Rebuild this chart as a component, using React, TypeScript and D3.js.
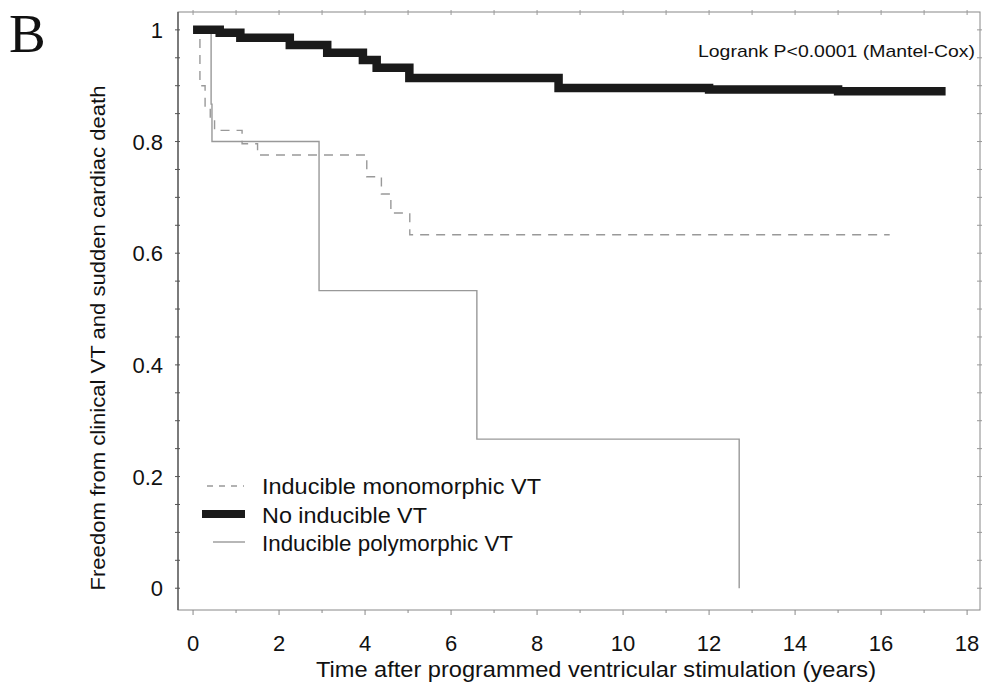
import React from "react";
import * as d3 from "d3";

const W = 993;
const H = 692;

// Kaplan-Meier step data: [time (years), survival]
const noInducibleT = [0, 0.62, 1.1, 2.25, 3.12, 3.95, 4.27, 5.03, 8.5, 12.0, 15.0, 17.5];
const noInducibleS = [1.0, 0.995, 0.986, 0.973, 0.959, 0.946, 0.932, 0.914, 0.896, 0.893, 0.89, 0.89];

const monoT = [0, 0.16, 0.28, 0.4, 0.5, 1.14, 1.5, 4.04, 4.38, 4.6, 5.04, 16.2];
const monoS = [1.0, 0.9, 0.862, 0.844, 0.82, 0.796, 0.776, 0.737, 0.706, 0.672, 0.633, 0.633];

const polyT = [0, 0.42, 0.44, 2.93, 6.6, 12.7, 12.7];
const polyS = [1.0, 0.867, 0.8, 0.533, 0.267, 0.267, 0.0];

const xTicks = [0, 2, 4, 6, 8, 10, 12, 14, 16, 18];
const yTicks = [0, 0.2, 0.4, 0.6, 0.8, 1];
const yTickLabels = ["0", "0.2", "0.4", "0.6", "0.8", "1"];

const legendLabels = ["Inducible monomorphic VT", "No inducible VT", "Inducible polymorphic VT"];

const frame = { left: 178, top: 12, right: 980, bottom: 610 };

const x = d3.scaleLinear().domain([-0.35, 18.3]).range([frame.left, frame.right]);
const y = d3.scaleLinear().domain([-0.039, 1.032]).range([frame.bottom, frame.top]);

const line = d3
  .line<[number, number]>()
  .x((d) => x(d[0]))
  .y((d) => y(d[1]))
  .curve(d3.curveStepAfter);

function pts(t: number[], s: number[]): [number, number][] {
  return t.map((v, i) => [v, s[i]] as [number, number]);
}

const FONT = "Liberation Sans, Arial, sans-serif";

export default function App() {
  const minorX = d3.range(0, 19, 1);
  const minorY = d3.range(0, 1.0001, 0.05);
  return (
    <svg width={W} height={H} style={{ position: "absolute", left: 0, top: 0, background: "#fff" }}>
      <rect x={0} y={0} width={W} height={H} fill="#fff" />
      {/* frame */}
      <rect
        x={frame.left}
        y={frame.top}
        width={frame.right - frame.left}
        height={frame.bottom - frame.top}
        fill="none"
        stroke="#888"
        strokeWidth={1}
      />
      <line x1={frame.left} x2={frame.left} y1={frame.top} y2={frame.bottom} stroke="#555" strokeWidth={1.3} />
      {/* y ticks */}
      {minorY.map((v, i) => (
        <line key={"ym" + i} x1={frame.left - 3} x2={frame.left + 2} y1={y(v)} y2={y(v)} stroke="#555" strokeWidth={1} />
      ))}
      {minorY.map((v, i) => (
        <line key={"yr" + i} x1={frame.right - 3} x2={frame.right + 2} y1={y(v)} y2={y(v)} stroke="#999" strokeWidth={1} />
      ))}
      {/* x ticks */}
      {minorX.map((t) => (
        <line
          key={"xm" + t}
          x1={x(t)}
          x2={x(t)}
          y1={frame.bottom}
          y2={frame.bottom + (t % 2 === 0 ? 5 : 3)}
          stroke="#888"
          strokeWidth={1}
        />
      ))}
      {minorX.map((t) => (
        <line key={"xt" + t} x1={x(t)} x2={x(t)} y1={frame.top - 2} y2={frame.top + 3} stroke="#999" strokeWidth={1} />
      ))}
      {/* y labels */}
      {yTicks.map((v, i) => (
        <text
          key={"yl" + i}
          x={163}
          y={y(v) + 8}
          textAnchor="end"
          fontFamily={FONT}
          fontSize={22}
          fill="#111"
        >
          {yTickLabels[i]}
        </text>
      ))}
      {/* x labels */}
      {xTicks.map((t) => (
        <text key={"xl" + t} x={x(t)} y={651} textAnchor="middle" fontFamily={FONT} fontSize={22} fill="#111">
          {t}
        </text>
      ))}
      {/* axis titles */}
      <text
        x={596}
        y={677}
        textAnchor="middle"
        fontFamily={FONT}
        fontSize={22}
        fill="#111"
        textLength={560}
        lengthAdjust="spacingAndGlyphs"
      >
        Time after programmed ventricular stimulation (years)
      </text>
      <text
        transform={`translate(105, 338) rotate(-90)`}
        textAnchor="middle"
        fontFamily={FONT}
        fontSize={21}
        fill="#111"
        textLength={505}
        lengthAdjust="spacingAndGlyphs"
      >
        Freedom from clinical VT and sudden cardiac death
      </text>
      {/* panel letter */}
      <text x={9} y={52} fontFamily="Liberation Serif, Times New Roman, serif" fontSize={55} fill="#111">
        B
      </text>
      {/* logrank */}
      <text
        x={698}
        y={57}
        fontFamily={FONT}
        fontSize={17}
        fill="#111"
        textLength={277}
        lengthAdjust="spacingAndGlyphs"
      >
        Logrank P&lt;0.0001 (Mantel-Cox)
      </text>
      {/* curves */}
      <path d={line(pts(polyT, polyS)) || ""} fill="none" stroke="#999" strokeWidth={1.4} />
      <path
        d={line(pts(monoT, monoS)) || ""}
        fill="none"
        stroke="#999"
        strokeWidth={1.4}
        strokeDasharray="9,7"
      />
      <path
        d={line(pts(noInducibleT, noInducibleS)) || ""}
        fill="none"
        stroke="#1a1a1a"
        strokeWidth={8.5}
        strokeLinejoin="miter"
      />
      {/* legend */}
      <line x1={207} x2={244} y1={486} y2={486} stroke="#999" strokeWidth={1.4} strokeDasharray="6,6" />
      <text x={262} y={494} fontFamily={FONT} fontSize={22} fill="#111" textLength={279} lengthAdjust="spacingAndGlyphs">
        {legendLabels[0]}
      </text>
      <line x1={202} x2={245} y1={514} y2={514} stroke="#1a1a1a" strokeWidth={8} />
      <text x={262} y={523} fontFamily={FONT} fontSize={22} fill="#111" textLength={165} lengthAdjust="spacingAndGlyphs">
        {legendLabels[1]}
      </text>
      <line x1={213} x2={245} y1={542} y2={542} stroke="#999" strokeWidth={1.4} />
      <text x={262} y={551} fontFamily={FONT} fontSize={22} fill="#111" textLength={251} lengthAdjust="spacingAndGlyphs">
        {legendLabels[2]}
      </text>
    </svg>
  );
}
